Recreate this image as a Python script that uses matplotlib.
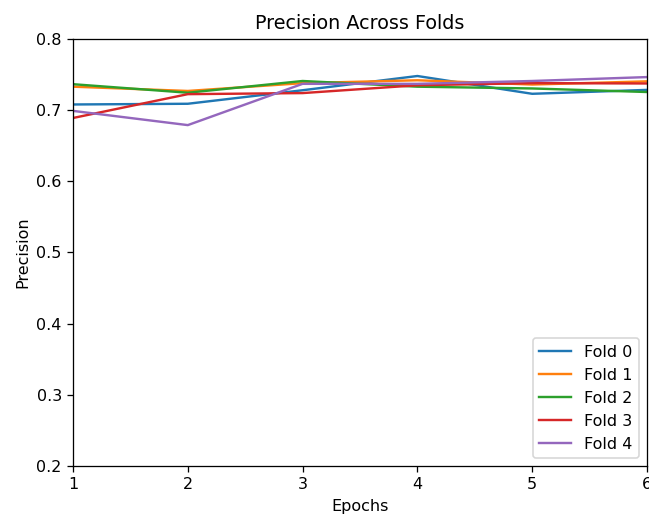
import matplotlib
matplotlib.use("Agg")
import matplotlib.pyplot as plt

epochs = [1, 2, 3, 4, 5, 6]
fold_0 = [0.708, 0.709, 0.728, 0.748, 0.723, 0.7285]
fold_1 = [0.733, 0.727, 0.738, 0.742, 0.736, 0.7405]
fold_2 = [0.7365, 0.7245, 0.741, 0.733, 0.7305, 0.7255]
fold_3 = [0.689, 0.7225, 0.724, 0.735, 0.738, 0.7375]
fold_4 = [0.699, 0.679, 0.737, 0.737, 0.741, 0.7465]
folds = [fold_0, fold_1, fold_2, fold_3, fold_4]

DPI = 115
fig = plt.figure(figsize=(649 / DPI, 518 / DPI), dpi=DPI)
ax = fig.add_axes([73 / 649, 1 - 466 / 518, 574 / 649, 427 / 518])

for i, vals in enumerate(folds):
    ax.plot(epochs, vals, label=f"Fold {i}")

ax.set_xlim(1, 6)
ax.set_ylim(0.2, 0.8)
ax.set_title("Precision Across Folds")
ax.set_xlabel("Epochs")
ax.set_ylabel("Precision")
ax.legend(loc="lower right")

fig.savefig("out.png", dpi=DPI)
